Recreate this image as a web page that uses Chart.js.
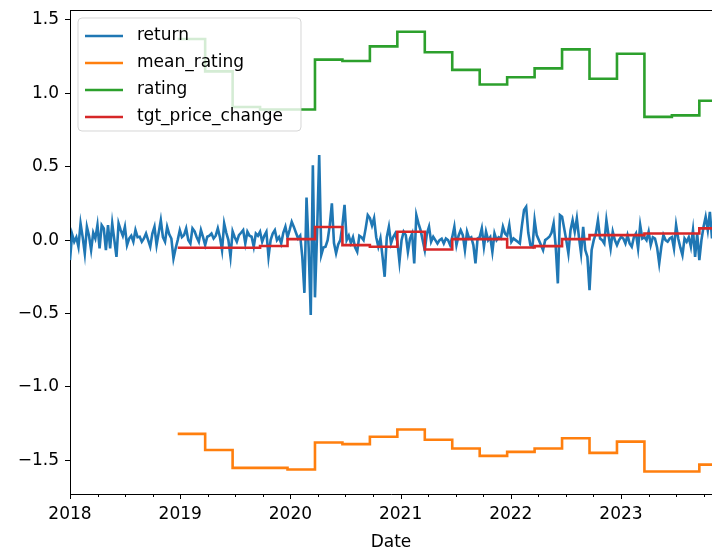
<!DOCTYPE html>
<html>
<head>
<meta charset="utf-8">
<script src="https://cdn.jsdelivr.net/npm/chart.js@4.4.0/dist/chart.umd.min.js"></script>
<style>
html, body { margin: 0; padding: 0; background: #fff; overflow: hidden; }
</style>
</head>
<body>
<canvas id="ratingChart" width="712" height="550"></canvas>
<script>
// weekly returns, one value per week from the first week of 2018
var returnVals = [
    -0.136, 0.04, -0.011, 0.02, -0.045, 0.114, 0.02, -0.091, 0.091, 0.03,
    -0.068, 0.05, 0.011, 0.102, -0.057, 0.102, 0.08, -0.068, 0.102, -0.057,
    0.114, 0.0, -0.114, 0.114, 0.068, 0.03, 0.091, -0.034, 0.011, 0.03,
    -0.011, 0.068, 0.02, 0.023, -0.011, 0.011, 0.045, 0.0, -0.045, 0.045,
    0.091, -0.034, 0.05, 0.136, 0.02, -0.011, 0.091, 0.04, 0.011, -0.125,
    -0.057, 0.0, 0.068, 0.02, 0.034, 0.08, 0.0, -0.023, 0.08, 0.06,
    0.02, -0.011, 0.068, 0.02, -0.034, 0.023, 0.03, 0.045, 0.011, 0.03,
    0.08, 0.02, -0.068, 0.114, 0.05, 0.0, -0.114, 0.06, 0.02, -0.011,
    0.034, 0.05, 0.068, -0.023, 0.057, 0.03, 0.023, -0.045, 0.045, 0.03,
    0.057, -0.011, 0.03, 0.057, -0.114, 0.0, 0.045, 0.068, 0.0, 0.02,
    -0.023, 0.05, 0.091, 0.02, 0.07, 0.125, 0.09, 0.05, 0.011, 0.03,
    -0.114, -0.36, 0.29, -0.05, -0.51, 0.51, -0.39, 0.05, 0.58, -0.1,
    -0.05, -0.045, 0.0, 0.1, 0.25, -0.02, -0.09, -0.03, 0.0, 0.1,
    0.24, 0.0, 0.03, -0.02, 0.02, -0.05, -0.08, 0.03, 0.02, 0.0,
    0.08, 0.17, 0.15, 0.1, 0.15, 0.02, -0.045, 0.011, -0.114, -0.25,
    0.02, 0.091, -0.023, 0.02, 0.045, -0.011, -0.148, 0.0, 0.057, 0.034,
    -0.08, 0.01, 0.045, -0.159, 0.17, 0.114, 0.068, 0.0, -0.068, 0.045,
    0.091, -0.011, 0.023, 0.0, -0.023, 0.0, 0.01, -0.023, 0.011, 0.0,
    -0.034, 0.02, 0.091, -0.034, 0.03, 0.068, 0.034, -0.068, 0.057, 0.011,
    0.02, -0.034, -0.159, 0.011, 0.02, 0.08, -0.045, 0.057, 0.0, 0.02,
    -0.08, 0.045, 0.0, 0.02, 0.011, 0.091, 0.045, 0.03, 0.102, -0.011,
    0.011, 0.0, -0.011, -0.023, 0.1, 0.205, 0.227, 0.05, -0.034, -0.045,
    0.136, 0.034, 0.0, -0.034, -0.068, 0.0, 0.011, 0.023, 0.05, 0.114,
    -0.045, -0.295, 0.17, 0.159, 0.08, 0.0, -0.091, 0.068, 0.136, 0.057,
    0.148, 0.02, -0.091, 0.091, -0.068, -0.114, -0.341, -0.068, 0.0, 0.045,
    0.136, 0.011, 0.0, -0.023, 0.136, 0.034, -0.057, 0.057, 0.0, -0.034,
    0.0, 0.023, 0.011, -0.023, 0.034, -0.023, -0.045, 0.02, 0.045, -0.057,
    0.102, 0.011, 0.02, 0.0, 0.057, -0.034, 0.02, 0.011, -0.05, -0.159,
    -0.045, 0.034, 0.0, -0.011, 0.011, 0.02, -0.057, 0.102, 0.011, -0.05,
    -0.102, 0.011, -0.011, 0.02, -0.045, 0.068, -0.114, 0.045, -0.136, 0.0,
    0.091, 0.159, 0.068, 0.193, 0.011
];

// week numbers where the quarterly values change (2019 Q1 .. 2023 Q4)
var changeWeeks = [51, 64, 77, 90, 103, 116, 129, 142, 155, 168, 181, 194, 207, 220, 233, 246, 259, 272, 285, 298];

var meanRating = [-1.32, -1.43, -1.552, -1.552, -1.563, -1.379, -1.39, -1.34, -1.29, -1.36,
                  -1.42, -1.47, -1.443, -1.42, -1.35, -1.45, -1.373, -1.577, -1.577, -1.53];
var rating = [1.37, 1.15, 0.907, 0.89, 0.89, 1.23, 1.22, 1.32, 1.42, 1.28,
              1.16, 1.06, 1.11, 1.17, 1.30, 1.10, 1.27, 0.84, 0.85, 0.95];
var tgtPriceChange = [-0.052, -0.052, -0.052, -0.04, 0.007, 0.089, -0.034, -0.045, 0.057, -0.064,
                      0.007, 0.007, -0.05, -0.041, 0.007, 0.034, 0.034, 0.045, 0.045, 0.08];

var yTicks = [-1.5, -1.0, -0.5, 0.0, 0.5, 1.0, 1.5];
var xYears = [2018, 2019, 2020, 2021, 2022, 2023];

var startYear = 2018;
function weekToYear(w) { return startYear + w * 7 / 365.25; }
var lastWeek = returnVals.length - 1;

var returnPts = returnVals.map(function(v, i) { return {x: weekToYear(i), y: v}; });

function stepPts(vals) {
    var pts = vals.map(function(v, i) { return {x: weekToYear(changeWeeks[i]), y: v}; });
    pts.push({x: weekToYear(lastWeek), y: vals[vals.length - 1]});
    return pts;
}

var FONT = 'DejaVu Sans';

//draws matplotlib style tick marks, top spine and the legend box
var mplPlugin = {
    id: 'mplBits',
    afterDraw: function(chart) {
        var ctx = chart.ctx;
        var area = chart.chartArea;
        var xs = chart.scales.x;
        ctx.save();
        ctx.strokeStyle = '#000';
        ctx.lineWidth = 1;
        // x ticks: years long, quarters short
        xs.ticks.forEach(function(t) {
            var px = Math.round(xs.getPixelForValue(t.value)) + 0.5;
            var isYear = Math.abs(t.value - Math.round(t.value)) < 1e-6;
            var len = isYear ? 5 : 3;
            ctx.beginPath();
            ctx.moveTo(px, area.bottom);
            ctx.lineTo(px, area.bottom + len);
            ctx.stroke();
        });
        // top spine
        ctx.beginPath();
        ctx.moveTo(area.left, area.top + 0.5);
        ctx.lineTo(area.right, area.top + 0.5);
        ctx.stroke();

        // legend
        var lx = area.left + 8, ly = area.top + 8, lw = 223, lh = 113, r = 4;
        ctx.beginPath();
        ctx.moveTo(lx + r, ly);
        ctx.lineTo(lx + lw - r, ly);
        ctx.quadraticCurveTo(lx + lw, ly, lx + lw, ly + r);
        ctx.lineTo(lx + lw, ly + lh - r);
        ctx.quadraticCurveTo(lx + lw, ly + lh, lx + lw - r, ly + lh);
        ctx.lineTo(lx + r, ly + lh);
        ctx.quadraticCurveTo(lx, ly + lh, lx, ly + lh - r);
        ctx.lineTo(lx, ly + r);
        ctx.quadraticCurveTo(lx, ly, lx + r, ly);
        ctx.closePath();
        ctx.fillStyle = 'rgba(255,255,255,0.8)';
        ctx.fill();
        ctx.strokeStyle = 'rgba(204,204,204,0.8)';
        ctx.stroke();

        ctx.font = '17px "' + FONT + '"';
        ctx.textBaseline = 'middle';
        ctx.textAlign = 'left';
        chart.data.datasets.forEach(function(ds, i) {
            var cy = ly + 18 + i * 27;
            ctx.strokeStyle = ds.borderColor;
            ctx.lineWidth = 2.6;
            ctx.beginPath();
            ctx.moveTo(lx + 7, cy);
            ctx.lineTo(lx + 45, cy);
            ctx.stroke();
            ctx.fillStyle = '#000';
            ctx.fillText(ds.label, lx + 59, cy);
        });
        ctx.restore();
    }
};

var ctx = document.getElementById('ratingChart').getContext('2d');
var ratingChart = new Chart(ctx, {
    type: 'line',
    data: {
        datasets: [{
            label: 'return',
            data: returnPts,
            borderColor: '#1f77b4',
            order: 4
        }, {
            label: 'mean_rating',
            data: stepPts(meanRating),
            borderColor: '#ff7f0e',
            stepped: true,
            order: 3
        }, {
            label: 'rating',
            data: stepPts(rating),
            borderColor: '#2ca02c',
            stepped: true,
            order: 2
        }, {
            label: 'tgt_price_change',
            data: stepPts(tgtPriceChange),
            borderColor: '#d62728',
            stepped: true,
            order: 1
        }]
    },
    options: {
        responsive: false,
        animation: false,
        layout: { padding: { top: 10, right: 0, left: 0, bottom: 0 } },
        elements: {
            point: { radius: 0, hoverRadius: 0 },
            line: { borderWidth: 2.6, tension: 0, fill: false, backgroundColor: 'transparent' }
        },
        plugins: {
            legend: { display: false },
            tooltip: { enabled: false }
        },
        scales: {
            x: {
                type: 'linear',
                min: startYear,
                max: weekToYear(lastWeek),
                afterFit: function(scale) {
                    scale.height = 56;
                    scale.paddingLeft = 0;
                    scale.paddingRight = 0;
                },
                border: { display: true, color: '#000', width: 1 },
                grid: { drawOnChartArea: false, drawTicks: true, tickLength: 5, color: 'rgba(0,0,0,0)' },
                ticks: {
                    stepSize: 0.25,
                    includeBounds: false,
                    autoSkip: false,
                    maxRotation: 0,
                    padding: 5,
                    color: '#000',
                    font: { family: FONT, size: 17 },
                    callback: function(v) {
                        var yr = Math.round(v);
                        if (Math.abs(v - yr) < 1e-6 && xYears.indexOf(yr) >= 0) return String(yr);
                        return '';
                    }
                },
                title: {
                    display: true,
                    text: 'Date',
                    color: '#000',
                    font: { family: FONT, size: 17 },
                    padding: { top: 4, bottom: -3 }
                }
            },
            y: {
                min: -1.73,
                max: 1.568,
                afterFit: function(scale) {
                    scale.width = 70;
                    scale.paddingTop = 0;
                    scale.paddingBottom = 0;
                },
                border: { display: true, color: '#000', width: 1 },
                grid: { drawOnChartArea: false, drawTicks: true, tickLength: 5, tickColor: '#000' },
                afterBuildTicks: function(scale) {
                    scale.ticks = yTicks.map(function(v) { return {value: v}; });
                },
                ticks: {
                    padding: 6,
                    color: '#000',
                    font: { family: FONT, size: 17 },
                    callback: function(v) { return v.toFixed(1).replace('-', '\u2212'); }
                }
            }
        }
    },
    plugins: [mplPlugin]
});
</script>
</body>
</html>
